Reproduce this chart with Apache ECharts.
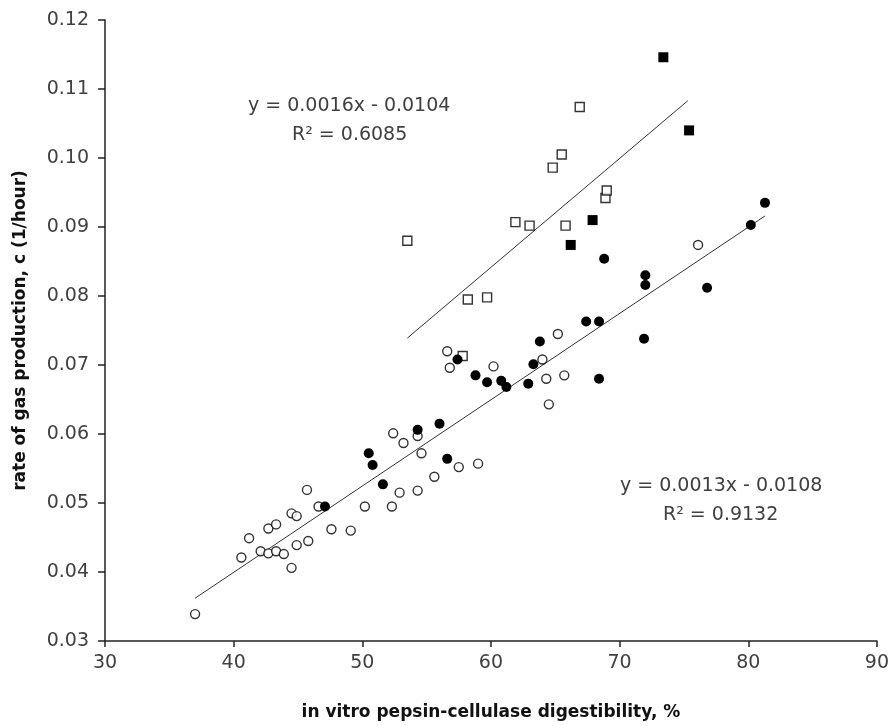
<!DOCTYPE html>
<html>
<head>
<meta charset="utf-8">
<script src="https://cdn.jsdelivr.net/npm/echarts@6/dist/echarts.min.js"></script>
<style>
html,body{margin:0;padding:0;background:#fff;}
#chart{width:892px;height:726px;}
</style>
</head>
<body>
<div id="chart"></div>
<script>
// ---- data ----
const openCircles = [
  [37.0,0.0339],[40.6,0.0421],[41.2,0.0449],[42.1,0.0430],[42.7,0.0427],[43.3,0.0430],
  [42.7,0.0463],[43.3,0.0469],[43.9,0.0426],[44.5,0.0406],[44.5,0.0485],[44.9,0.0481],
  [44.9,0.0439],[45.8,0.0445],[45.7,0.0519],[46.6,0.0495],[47.6,0.0462],[49.1,0.0460],
  [50.2,0.0495],[52.3,0.0495],[52.9,0.0515],[54.3,0.0518],[52.4,0.0601],[53.2,0.0587],
  [54.3,0.0597],[54.6,0.0572],[55.6,0.0538],[57.5,0.0552],[59.0,0.0557],[56.6,0.0720],
  [56.8,0.0696],[60.2,0.0698],[64.0,0.0708],[65.2,0.0745],[64.3,0.0680],[65.7,0.0685],
  [64.5,0.0643],[76.1,0.0874]
];
const filledCircles = [
  [47.1,0.0495],[50.5,0.0572],[50.8,0.0555],[51.6,0.0527],[54.3,0.0606],[56.0,0.0615],
  [56.6,0.0564],[57.4,0.0708],[58.8,0.0685],[59.7,0.0675],[60.8,0.0677],[61.2,0.0668],
  [62.9,0.0673],[63.3,0.0701],[63.8,0.0734],[67.4,0.0763],[68.4,0.0763],[68.4,0.0680],
  [68.8,0.0854],[71.9,0.0738],[72.0,0.0830],[72.0,0.0816],[76.8,0.0812],[80.2,0.0903],
  [81.3,0.0935]
];
const openSquares = [
  [53.5,0.0880],[57.8,0.0713],[58.2,0.0795],[59.7,0.0798],[61.9,0.0907],[63.0,0.0902],
  [64.8,0.0986],[65.5,0.1005],[65.8,0.0902],[66.9,0.1074],[68.9,0.0942],[69.0,0.0953]
];
const filledSquares = [
  [66.2,0.0874],[67.9,0.0910],[73.4,0.1146],[75.4,0.1040]
];
// trend line end points
const trendUpper = [[53.5,0.0739],[75.3,0.1083]];
const trendLower = [[37.0,0.0362],[81.3,0.0916]];
// annotation texts
const eqUpper = 'y = 0.0016x - 0.0104';
const r2Upper = 'R² = 0.6085';
const eqLower = 'y = 0.0013x - 0.0108';
const r2Lower = 'R² = 0.9132';
const xTitle = 'in vitro pepsin-cellulase digestibility, %';
const yTitle = 'rate of gas production, c (1/hour)';

const FONT = 'DejaVu Sans';
const TXT = '#404040';

const chart = echarts.init(document.getElementById('chart'), null, {renderer:'canvas'});
chart.setOption({
  animation:false,
  backgroundColor:'#fff',
  grid:{left:105, right:14, top:20, bottom:84, containLabel:false},
  xAxis:{
    type:'value', min:30, max:90, interval:10,
    name:xTitle, nameLocation:'middle', nameGap:63,
    nameTextStyle:{fontFamily:FONT, fontWeight:'bold', fontSize:17, color:'#111'},
    axisLine:{onZero:false, lineStyle:{color:'#222', width:1.5}},
    axisTick:{show:true, length:6, lineStyle:{color:'#222', width:1.5}},
    axisLabel:{fontFamily:FONT, fontSize:19, color:TXT, margin:13},
    splitLine:{show:false}
  },
  yAxis:{
    type:'value', min:0.03, max:0.12, interval:0.01,
    name:yTitle, nameLocation:'middle', nameGap:76, nameRotate:90,
    nameTextStyle:{fontFamily:FONT, fontWeight:'bold', fontSize:17, color:'#111'},
    axisLine:{show:true, onZero:false, lineStyle:{color:'#222', width:1.5}},
    axisTick:{show:true, length:7, lineStyle:{color:'#222', width:1.5}},
    axisLabel:{fontFamily:FONT, fontSize:19, color:TXT, margin:16,
      formatter:v=>v.toFixed(2)},
    splitLine:{show:false}
  },
  series:[
    {type:'line', data:trendUpper, symbol:'none', lineStyle:{color:'#333', width:1}, z:1},
    {type:'line', data:trendLower, symbol:'none', lineStyle:{color:'#333', width:1}, z:1},
    {type:'scatter', data:openCircles, symbol:'circle', symbolSize:9,
      itemStyle:{color:'#fff', borderColor:'#000', borderWidth:1.4}, z:2},
    {type:'scatter', data:openSquares, symbol:'rect', symbolSize:9,
      itemStyle:{color:'#fff', borderColor:'#000', borderWidth:1.4}, z:2},
    {type:'scatter', data:filledCircles, symbol:'circle', symbolSize:10,
      itemStyle:{color:'#000', borderColor:'#000', borderWidth:0, opacity:1}, z:3},
    {type:'scatter', data:filledSquares, symbol:'rect', symbolSize:10,
      itemStyle:{color:'#000', borderColor:'#000', borderWidth:0, opacity:1}, z:3}
  ],
  graphic:[
    {type:'text', left:248, top:97, style:{text:eqUpper, font:'19px "DejaVu Sans"', fill:TXT}},
    {type:'text', left:292, top:126, style:{text:r2Upper, font:'19px "DejaVu Sans"', fill:TXT}},
    {type:'text', left:620, top:477, style:{text:eqLower, font:'19px "DejaVu Sans"', fill:TXT}},
    {type:'text', left:663, top:506, style:{text:r2Lower, font:'19px "DejaVu Sans"', fill:TXT}}
  ]
});
</script>
</body>
</html>
